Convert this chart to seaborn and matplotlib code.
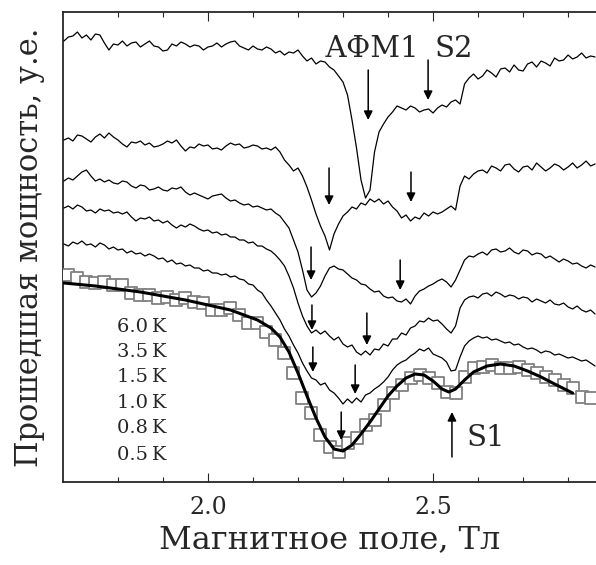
import numpy as np
import matplotlib
matplotlib.use("Agg")
import matplotlib.pyplot as plt
import seaborn as sns

# field grid of the measured traces, Tesla
field = np.linspace(1.68, 2.86, 119)

# transmitted power, arb. units (traces already shifted vertically)
p_60K = [4.41, 4.45, 4.46, 4.50, 4.44, 4.47, 4.42, 4.48, 4.47, 4.39,
         4.32, 4.38, 4.37, 4.41, 4.36, 4.39, 4.40, 4.35, 4.38, 4.41,
         4.36, 4.35, 4.31, 4.32, 4.38, 4.36, 4.40, 4.38, 4.35, 4.37,
         4.36, 4.32, 4.35, 4.36, 4.39, 4.35, 4.38, 4.40, 4.41, 4.36,
         4.34, 4.32, 4.36, 4.33, 4.32, 4.35, 4.33, 4.29, 4.31, 4.27,
         4.30, 4.29, 4.32, 4.26, 4.21, 4.24, 4.18, 4.21, 4.20, 4.15,
         4.12, 4.06, 4.00, 3.87, 3.62, 3.34, 3.02, 2.84, 2.92, 3.30,
         3.50, 3.58, 3.65, 3.70, 3.76, 3.74, 3.72, 3.76, 3.74, 3.70,
         3.72, 3.73, 3.69, 3.74, 3.77, 3.75, 3.80, 3.82, 3.78, 3.98,
         4.04, 4.08, 4.03, 4.06, 4.12, 4.09, 4.05, 4.13, 4.14, 4.10,
         4.17, 4.12, 4.11, 4.18, 4.20, 4.15, 4.21, 4.19, 4.16, 4.24,
         4.21, 4.22, 4.27, 4.23, 4.25, 4.29, 4.24, 4.26, 4.25]
p_35K = [3.42, 3.44, 3.41, 3.47, 3.46, 3.43, 3.40, 3.45, 3.48, 3.44,
         3.49, 3.45, 3.42, 3.38, 3.35, 3.40, 3.39, 3.41, 3.37, 3.39,
         3.35, 3.36, 3.38, 3.41, 3.39, 3.42, 3.36, 3.31, 3.35, 3.34,
         3.38, 3.36, 3.37, 3.33, 3.34, 3.32, 3.36, 3.39, 3.37, 3.38,
         3.34, 3.35, 3.37, 3.36, 3.33, 3.34, 3.32, 3.35, 3.30, 3.22,
         3.17, 3.11, 3.14, 3.06, 2.95, 2.82, 2.68, 2.56, 2.46, 2.32,
         2.48, 2.58, 2.66, 2.70, 2.75, 2.73, 2.79, 2.77, 2.83, 2.80,
         2.83, 2.78, 2.81, 2.75, 2.71, 2.64, 2.67, 2.61, 2.65, 2.63,
         2.69, 2.66, 2.70, 2.68, 2.70, 2.73, 2.76, 2.72, 2.96, 3.06,
         3.03, 3.08, 3.11, 3.12, 3.09, 3.16, 3.14, 3.11, 3.17, 3.18,
         3.13, 3.10, 3.15, 3.16, 3.12, 3.19, 3.15, 3.11, 3.14, 3.18,
         3.16, 3.12, 3.15, 3.19, 3.14, 3.17, 3.21, 3.16, 3.18]
p_15K = [3.01, 3.04, 3.02, 3.06, 3.10, 3.12, 3.06, 3.01, 3.03, 3.00,
         3.02, 2.99, 2.98, 3.01, 3.00, 2.96, 2.94, 2.97, 2.96, 2.92,
         2.93, 2.95, 2.92, 2.91, 2.94, 2.93, 2.95, 2.90, 2.87, 2.89,
         2.87, 2.85, 2.83, 2.86, 2.87, 2.88, 2.84, 2.81, 2.82, 2.79,
         2.77, 2.78, 2.75, 2.76, 2.74, 2.72, 2.73, 2.69, 2.66, 2.60,
         2.54, 2.42, 2.30, 2.12, 1.92, 1.85, 1.89, 1.96, 2.06, 2.14,
         2.16, 2.13, 2.12, 2.08, 2.04, 2.02, 1.98, 1.97, 1.93, 1.90,
         1.91, 1.86, 1.84, 1.85, 1.81, 1.80, 1.83, 1.78, 1.86, 1.91,
         1.93, 1.96, 1.98, 2.01, 2.03, 2.00, 1.95, 2.02, 2.12, 2.22,
         2.26, 2.25, 2.28, 2.30, 2.27, 2.32, 2.33, 2.30, 2.31, 2.34,
         2.30, 2.28, 2.32, 2.31, 2.27, 2.29, 2.28, 2.24, 2.26, 2.23,
         2.20, 2.23, 2.21, 2.18, 2.19, 2.16, 2.14, 2.17, 2.15]
p_10K = [2.74, 2.76, 2.73, 2.77, 2.75, 2.71, 2.72, 2.69, 2.73, 2.71,
         2.72, 2.69, 2.70, 2.68, 2.70, 2.65, 2.61, 2.64, 2.63, 2.65,
         2.61, 2.62, 2.59, 2.61, 2.57, 2.54, 2.57, 2.55, 2.58, 2.56,
         2.53, 2.51, 2.52, 2.49, 2.50, 2.47, 2.48, 2.45, 2.45, 2.42,
         2.42, 2.39, 2.40, 2.36, 2.36, 2.33, 2.31, 2.27, 2.22, 2.16,
         2.06, 1.94, 1.79, 1.66, 1.56, 1.49, 1.52, 1.48, 1.51, 1.46,
         1.42, 1.45, 1.38, 1.35, 1.37, 1.30, 1.27, 1.31, 1.27, 1.33,
         1.32, 1.38, 1.36, 1.43, 1.43, 1.49, 1.47, 1.54, 1.56, 1.61,
         1.60, 1.64, 1.61, 1.62, 1.58, 1.53, 1.49, 1.56, 1.74, 1.82,
         1.85, 1.86, 1.84, 1.88, 1.89, 1.86, 1.90, 1.88, 1.85, 1.87,
         1.86, 1.83, 1.85, 1.84, 1.80, 1.83, 1.81, 1.79, 1.82, 1.78,
         1.77, 1.79, 1.75, 1.73, 1.76, 1.72, 1.70, 1.72, 1.68]
p_08K = [2.38, 2.36, 2.40, 2.38, 2.41, 2.37, 2.38, 2.35, 2.39, 2.37,
         2.33, 2.35, 2.32, 2.33, 2.29, 2.31, 2.28, 2.29, 2.26, 2.28,
         2.26, 2.23, 2.24, 2.20, 2.22, 2.18, 2.19, 2.16, 2.17, 2.14,
         2.14, 2.11, 2.12, 2.09, 2.09, 2.07, 2.08, 2.05, 2.06, 2.03,
         2.02, 1.98, 1.97, 1.92, 1.89, 1.82, 1.76, 1.69, 1.62, 1.53,
         1.46, 1.37, 1.29, 1.19, 1.11, 1.04, 1.02, 0.97, 0.99, 0.92,
         0.89, 0.84, 0.78, 0.83, 0.79, 0.84, 0.80, 0.87, 0.89, 0.93,
         0.96, 1.00, 1.05, 1.12, 1.17, 1.20, 1.22, 1.26, 1.29, 1.33,
         1.31, 1.34, 1.28, 1.26, 1.24, 1.20, 1.11, 1.12, 1.25, 1.36,
         1.41, 1.44, 1.46, 1.44, 1.45, 1.42, 1.43, 1.41, 1.39, 1.40,
         1.37, 1.38, 1.35, 1.33, 1.34, 1.32, 1.29, 1.31, 1.30, 1.27,
         1.28, 1.26, 1.24, 1.25, 1.23, 1.21, 1.22, 1.19, 1.16]

# 0.5 K: measured points (squares) and model curve
field_05K = np.linspace(1.69, 2.85, 59)
p_05K = [2.07, 2.04, 2.00, 1.99, 2.00, 1.97, 1.97, 1.89, 1.87, 1.87,
         1.84, 1.85, 1.82, 1.84, 1.80, 1.79, 1.72, 1.72, 1.74, 1.67,
         1.59, 1.59, 1.50, 1.42, 1.29, 1.09, 0.84, 0.69, 0.47, 0.35,
         0.30, 0.39, 0.44, 0.57, 0.62, 0.77, 0.89, 0.97, 1.04, 1.07,
         1.04, 0.99, 0.90, 0.89, 1.05, 1.14, 1.15, 1.17, 1.14, 1.14,
         1.15, 1.12, 1.09, 1.05, 1.02, 0.97, 0.94, 0.85, 0.84]
fit_field = [1.68, 1.75, 1.80, 1.85, 1.90, 1.95, 2.00, 2.05, 2.08, 2.11,
             2.14, 2.16, 2.18, 2.20, 2.22, 2.24, 2.26, 2.28, 2.30, 2.32,
             2.34, 2.36, 2.38, 2.40, 2.42, 2.44, 2.46, 2.48, 2.50, 2.52,
             2.535, 2.55, 2.57, 2.59, 2.62, 2.65, 2.68, 2.71, 2.74, 2.77, 2.81]
fit_power = [1.99, 1.96, 1.93, 1.90, 1.86, 1.82, 1.77, 1.72, 1.67, 1.62,
             1.54, 1.45, 1.30, 1.09, 0.86, 0.64, 0.45, 0.33, 0.31, 0.37,
             0.48, 0.60, 0.73, 0.86, 0.96, 1.04, 1.08, 1.07, 1.01, 0.93,
             0.90, 0.93, 1.02, 1.10, 1.16, 1.18, 1.16, 1.11, 1.05, 0.98, 0.89]

temp_labels = ["6.0\u2009K", "3.5\u2009K", "1.5\u2009K", "1.0\u2009K", "0.8\u2009K", "0.5\u2009K"]
temp_label_y = [1.55, 1.30, 1.05, 0.79, 0.54, 0.27]

# resonance markers: field, arrow tail, arrow head
arrow_field = [2.356, 2.489, 2.269, 2.451, 2.229, 2.427, 2.231, 2.353, 2.233, 2.327, 2.296, 2.542]
arrow_tail = [4.12, 4.22, 3.14, 3.10, 2.35, 2.22, 1.77, 1.69, 1.35, 1.17, 0.70, 0.25]
arrow_head = [3.62, 3.82, 2.77, 2.80, 2.02, 1.92, 1.52, 1.37, 1.10, 0.88, 0.42, 0.70]

sns.set_style("ticks")
plt.rcParams['font.family'] = ['DejaVu Serif']

fig = plt.figure(figsize=(5.96, 5.65), dpi=100)
ax = fig.add_axes([63 / 596, 83 / 565, 1 - 63 / 596, 470 / 565])

for trace in [p_60K, p_35K, p_15K, p_10K, p_08K]:
    sns.lineplot(x=field, y=trace, ax=ax, color='black', lw=0.9,
                 estimator=None, sort=False, zorder=3)

sns.scatterplot(x=field_05K, y=p_05K, ax=ax, marker='s', s=85,
                facecolor='white', edgecolor='#808080', linewidth=1.3, zorder=4)
sns.lineplot(x=fit_field, y=fit_power, ax=ax, color='black', lw=2.2,
             estimator=None, sort=False, zorder=5)

for f, t, h in zip(arrow_field, arrow_tail, arrow_head):
    ax.annotate("", xy=(f, h), xytext=(f, t),
                arrowprops=dict(arrowstyle='-|>', color='black', lw=1.1,
                                mutation_scale=13, shrinkA=0, shrinkB=0),
                zorder=6)

for lab, y in zip(temp_labels, temp_label_y):
    ax.text(1.798, y, lab, fontsize=14, va='center', ha='left')

ax.text(2.364, 4.33, "АФМ1", fontsize=21, ha='center', va='center')
ax.text(2.547, 4.33, "S2", fontsize=21, ha='center', va='center')
ax.text(2.616, 0.44, "S1", fontsize=21, ha='center', va='center')

ax.set_xlim(1.678, 2.862)
ax.set_ylim(0, 4.70)
ax.set_yticks([])
ax.set_xticks([2.0, 2.5])
ax.set_xticklabels(["2.0", "2.5"])
ax.set_xticks([1.8, 1.9, 2.1, 2.2, 2.3, 2.4, 2.6, 2.7, 2.8], minor=True)
ax.tick_params(axis='x', which='major', direction='in', length=6.5, width=0.8,
               top=True, labelsize=17, pad=10)
ax.tick_params(axis='x', which='minor', direction='in', length=3.6, width=0.8, top=True)
for side in ['left', 'top', 'bottom']:
    ax.spines[side].set_linewidth(1.3)
ax.spines['right'].set_visible(False)

ax.set_xlabel("Магнитное поле, Тл", fontsize=23, labelpad=4)
ax.set_ylabel("Прошедшая мощность, у.е.", fontsize=22, labelpad=13)

fig.savefig("out.png", dpi=100)
